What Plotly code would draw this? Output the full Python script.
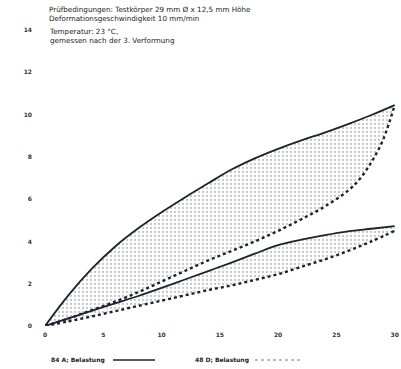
import plotly.graph_objects as go

x_load = [0, 2, 4, 6, 8, 10, 12, 14, 16, 18, 20, 22, 24, 26, 28, 30]
a84_load = [0, 1.45, 2.7, 3.75, 4.62, 5.38, 6.08, 6.75, 7.4, 7.93, 8.38, 8.78, 9.15, 9.55, 9.98, 10.45]
x_unload_a = [0, 2, 4, 6, 8, 10, 12, 14, 16, 18, 20, 22, 24, 26, 27, 28, 29, 30]
a84_unload = [0, 0.35, 0.75, 1.15, 1.6, 2.1, 2.6, 3.1, 3.55, 4.0, 4.5, 5.05, 5.65, 6.4, 6.95, 7.75, 8.8, 10.45]
d48_load = [0, 0.36, 0.72, 1.07, 1.42, 1.8, 2.2, 2.6, 3.0, 3.42, 3.82, 4.08, 4.3, 4.48, 4.6, 4.72]
x_unload_d = [0, 2, 4, 6, 8, 10, 12, 14, 16, 18, 20, 22, 24, 26, 28, 30]
d48_unload = [0, 0.22, 0.45, 0.7, 0.95, 1.2, 1.45, 1.7, 1.92, 2.18, 2.45, 2.8, 3.15, 3.55, 4.0, 4.5]

x_ticks = [0, 5, 10, 15, 20, 25, 30]
y_ticks = [0, 2, 4, 6, 8, 10, 12, 14]

notes = [
    "Prüfbedingungen: Testkörper 29 mm Ø x 12,5 mm Höhe",
    "Deformationsgeschwindigkeit 10 mm/min",
    "Temperatur: 23 °C,",
    "gemessen nach der 3. Verformung",
]
legend_labels = ["84 A; Belastung", "48 D; Belastung"]

ink = "#1e2230"
pattern = dict(shape=".", fgcolor="#8c8c8c", bgcolor="rgba(255,255,255,0)", size=4, solidity=0.25)
fillc = "rgba(180,180,180,0.15)"

fig = go.Figure()
fig.add_trace(go.Scatter(x=x_load, y=a84_load, mode="lines", line=dict(color=ink, width=1.8, shape="spline"), showlegend=False))
fig.add_trace(go.Scatter(x=x_unload_a, y=a84_unload, mode="lines", line=dict(color=ink, width=2.4, dash="dot", shape="spline"),
                         fill="tonexty", fillcolor=fillc, fillpattern=pattern, showlegend=False))
fig.add_trace(go.Scatter(x=x_load, y=d48_load, mode="lines", line=dict(color=ink, width=1.8, shape="spline"), showlegend=False))
fig.add_trace(go.Scatter(x=x_unload_d, y=d48_unload, mode="lines", line=dict(color=ink, width=2.4, dash="dot", shape="spline"),
                         fill="tonexty", fillcolor=fillc, fillpattern=pattern, showlegend=False))

tickfont = dict(family="DejaVu Sans", size=6, color="#333333", weight="bold")
fig.update_layout(
    width=401, height=369,
    margin=dict(l=45, r=4, t=30, b=43),
    paper_bgcolor="white", plot_bgcolor="white",
    xaxis=dict(range=[0, 30.2], tickvals=x_ticks, showgrid=False, zeroline=False, showline=False,
               ticks="", tickfont=tickfont, ticklabelstandoff=4, ticklabeloverflow="allow", automargin=False),
    yaxis=dict(range=[0, 14], tickvals=y_ticks, showgrid=False, zeroline=False, showline=False,
               ticks="", tickfont=tickfont, ticklabelstandoff=12, automargin=False),
    showlegend=False,
)

PW, PH = 352, 296  # plot area size in px
X0, Y0 = 45, 326   # page coords of plot origin


def px(xp):
    return (xp - X0) / PW


def py(yp):
    return (Y0 - yp) / PH


note_font = dict(family="DejaVu Sans", size=7.2, color="#222222")
fig.add_annotation(text=notes[0] + "<br>" + notes[1], xref="paper", yref="paper", x=px(47), y=py(3),
                   xanchor="left", yanchor="top", align="left", showarrow=False, font=note_font)
fig.add_annotation(text=notes[2] + "<br>" + notes[3], xref="paper", yref="paper", x=px(47), y=py(25),
                   xanchor="left", yanchor="top", align="left", showarrow=False, font=note_font)

leg_y = py(360)
leg_font = dict(family="DejaVu Sans", size=6, color="#222222")
fig.add_annotation(text="<b>" + legend_labels[0] + "</b>", xref="paper", yref="paper", x=px(49), y=leg_y,
                   xanchor="left", yanchor="middle", showarrow=False, font=leg_font)
fig.add_shape(type="line", xref="paper", yref="paper", x0=px(113), x1=px(155), y0=leg_y, y1=leg_y,
              line=dict(color=ink, width=1.5))
fig.add_annotation(text="<b>" + legend_labels[1] + "</b>", xref="paper", yref="paper", x=px(193), y=leg_y,
                   xanchor="left", yanchor="middle", showarrow=False, font=leg_font)
fig.add_shape(type="line", xref="paper", yref="paper", x0=px(255), x1=px(300), y0=leg_y, y1=leg_y,
              line=dict(color="#777777", width=1, dash="dot"))

fig.write_html("out.html", config={"displayModeBar": False},
               post_script="document.body.style.margin='0';document.body.style.overflow='hidden';")
